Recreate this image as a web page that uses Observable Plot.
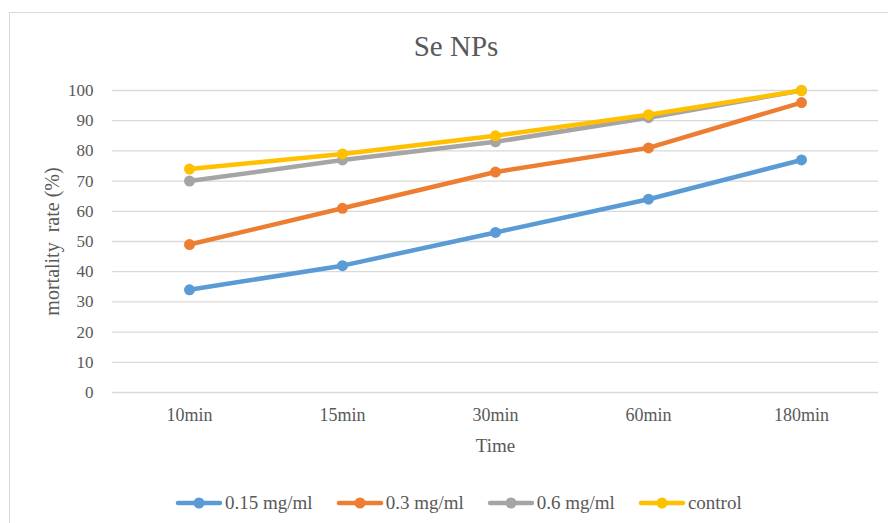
<!DOCTYPE html>
<html>
<head>
<meta charset="utf-8">
<script src="https://cdn.jsdelivr.net/npm/d3@7"></script>
<script src="https://cdn.jsdelivr.net/npm/@observablehq/plot@0.6"></script>
<style>
  body { margin: 0; background: #fff; }
  #wrap { position: relative; width: 888px; height: 523px; overflow: hidden; font-family: "Liberation Serif", "Times New Roman", serif; color: #595959; }
  #frame { position: absolute; left: 9px; top: 12px; width: 920px; height: 600px; border: 1px solid #d9d9d9; box-sizing: border-box; }
  #title { position: absolute; left: 0; top: 29px; width: 912px; text-align: center; font-size: 29px; line-height: 34px; }
  #chart { position: absolute; left: 0; top: 70px; }
  #chart svg, #chart svg text { font-family: "Liberation Serif", "Times New Roman", serif !important; }
  #chart svg g[aria-label="y-axis tick label"] { font-size: 17px !important; }
  #chart svg g[aria-label="x-axis tick label"] { font-size: 18px !important; }
  #legend { position: absolute; left: 175px; top: 491px; display: flex; align-items: center; font-size: 19px; line-height: 24px; }
  .item { display: flex; align-items: center; margin-right: 23px; }
  .item svg { margin-right: 2px; }
</style>
</head>
<body>
<div id="wrap">
  <div id="frame"></div>
  <div id="title">Se NPs</div>
  <div id="chart"></div>
  <div id="legend"></div>
</div>
<script>
const times = ["10min", "15min", "30min", "60min", "180min"];
const s015 = [34, 42, 53, 64, 77];
const s03 = [49, 61, 73, 81, 96];
const s06 = [70, 77, 83, 91, 100];
const sControl = [74, 79, 85, 92, 100];
const seriesNames = ["0.15 mg/ml", "0.3 mg/ml", "0.6 mg/ml", "control"];
const seriesColors = ["#5B9BD5", "#ED7D31", "#A5A5A5", "#FFC000"];
const yTicks = [0, 10, 20, 30, 40, 50, 60, 70, 80, 90, 100];

const allSeries = [s015, s03, s06, sControl];
const rows = [];
allSeries.forEach((vals, i) => {
  vals.forEach((v, j) => rows.push({series: seriesNames[i], time: times[j], value: v}));
});

const font = '"Liberation Serif", "Times New Roman", serif';

const plot = Plot.plot({
  width: 888,
  height: 390,
  marginLeft: 112,
  marginRight: 10,
  marginTop: 20,
  marginBottom: 68,
  style: {fontFamily: font, fontSize: "17px", color: "#595959", background: "transparent"},
  x: {type: "point", domain: times, padding: 0.5},
  y: {domain: [0, 100]},
  color: {domain: seriesNames, range: seriesColors},
  marks: [
    Plot.ruleY(yTicks, {stroke: "#d9d9d9", strokeWidth: 1.3}),
    Plot.axisX({tickSize: 0, tickPadding: 16, fontSize: 18, label: null, fill: "#595959"}),
    Plot.axisY({ticks: yTicks, tickSize: 0, tickPadding: 19, fontSize: 17, label: null, fill: "#595959"}),
    Plot.line(rows, {x: "time", y: "value", z: "series", stroke: "series", strokeWidth: 4.5, strokeLinecap: "round", strokeLinejoin: "round"}),
    Plot.dot(rows, {x: "time", y: "value", fill: "series", r: 5.5, stroke: "none"}),
    Plot.text(["Time"], {frameAnchor: "bottom", dy: 53, fontSize: 19, fill: "#595959", lineAnchor: "middle"}),
    Plot.text(["mortality  rate (%)"], {frameAnchor: "left", dx: -60, rotate: -90, fontSize: 20, fill: "#595959", lineAnchor: "middle", textAnchor: "middle"})
  ]
});
document.getElementById("chart").appendChild(plot);

const legend = document.getElementById("legend");
seriesNames.forEach((name, i) => {
  const item = document.createElement("div");
  item.className = "item";
  item.innerHTML = `<svg width="48" height="14"><line x1="3" y1="7" x2="45" y2="7" stroke="${seriesColors[i]}" stroke-width="4.5" stroke-linecap="round"/><circle cx="24" cy="7" r="5.5" fill="${seriesColors[i]}"/></svg><span>${name}</span>`;
  legend.appendChild(item);
});
</script>
</body>
</html>
